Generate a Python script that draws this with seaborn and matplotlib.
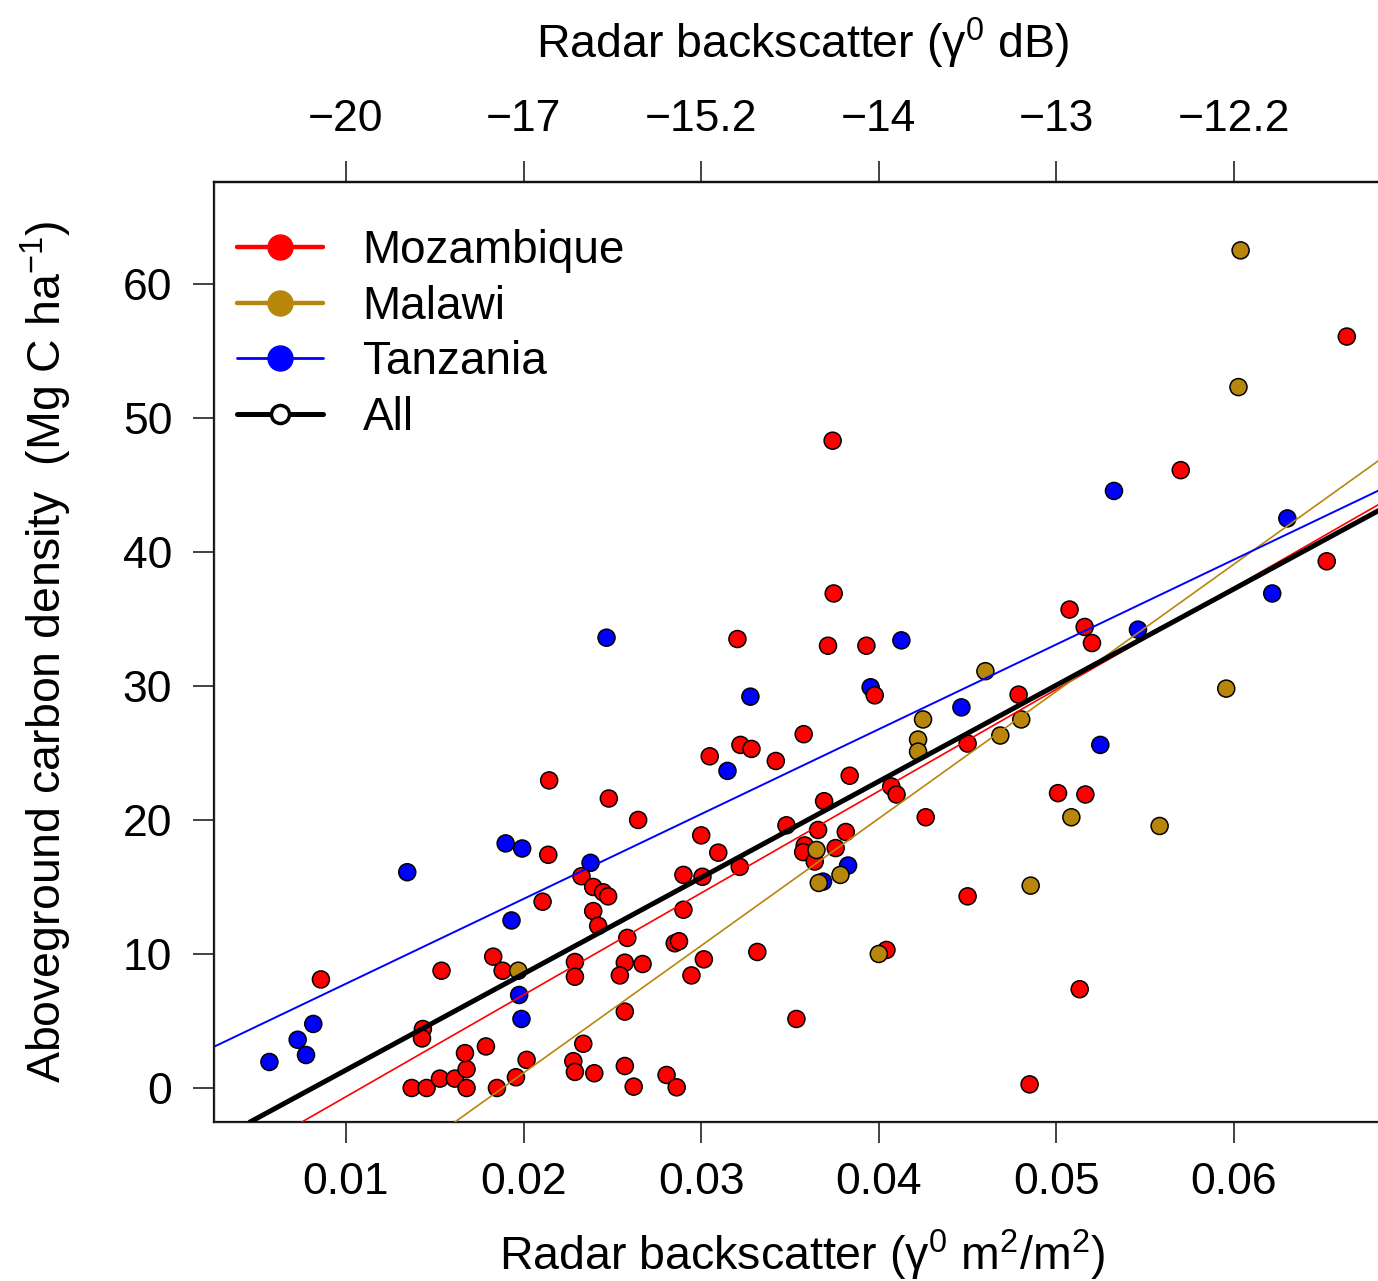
import numpy as np
import pandas as pd
import matplotlib
matplotlib.use("Agg")
import matplotlib.pyplot as plt
from matplotlib.lines import Line2D
import seaborn as sns

# Points (linear backscatter, carbon density)
moz_x = [0.00859, 0.01433, 0.01428, 0.0137, 0.01454, 0.01529, 0.01613, 0.01679, 0.01679, 0.0167,
         0.01788, 0.0185, 0.01957, 0.02017, 0.02336, 0.0228, 0.02289, 0.02398, 0.01538, 0.01829,
         0.01882, 0.02289, 0.02289, 0.02107, 0.02139, 0.02144, 0.0248, 0.02326, 0.02392, 0.02448,
         0.02476, 0.02392, 0.0242, 0.03746, 0.03204, 0.03714, 0.0393, 0.03977, 0.03577, 0.03221,
         0.03283, 0.03048, 0.0342, 0.03836, 0.02645, 0.03692, 0.0348, 0.03658, 0.03814, 0.0407,
         0.041, 0.04264, 0.03, 0.03096, 0.029, 0.03007, 0.03217, 0.03583, 0.03574, 0.03757,
         0.03639, 0.0450, 0.02584, 0.029, 0.02851, 0.02875, 0.0257, 0.0267, 0.02542, 0.03015,
         0.02945, 0.03316, 0.04043, 0.0257, 0.03536, 0.0257, 0.0262, 0.02805, 0.02862, 0.04849,
         0.06635, 0.0570, 0.05074, 0.05159, 0.052, 0.04787, 0.0450, 0.06522, 0.05009, 0.05163,
         0.05131, 0.0374]
moz_y = [8.1, 4.4, 3.7, 0.0, 0.0, 0.7, 0.7, 1.4, 0.0, 2.6,
         3.1, 0.0, 0.8, 2.1, 3.3, 2.0, 1.2, 1.1, 8.75, 9.8,
         8.75, 9.4, 8.3, 13.9, 17.4, 22.95, 21.6, 15.8, 15.0, 14.6,
         14.3, 13.2, 12.1, 36.9, 33.5, 33.0, 33.0, 29.3, 26.4, 25.6,
         25.3, 24.75, 24.4, 23.3, 20.0, 21.4, 19.6, 19.25, 19.1, 22.5,
         21.9, 20.2, 18.85, 17.56, 15.9, 15.76, 16.5, 18.1, 17.6, 17.9,
         16.9, 14.3, 11.2, 13.3, 10.8, 10.95, 9.35, 9.25, 8.4, 9.6,
         8.4, 10.15, 10.3, 5.7, 5.15, 1.64, 0.1, 0.97, 0.05, 0.27,
         56.07, 46.1, 35.7, 34.4, 33.2, 29.35, 25.7, 39.3, 22.0, 21.9,
         7.37, 48.3]

tza_x = [0.00569, 0.00728, 0.00775, 0.00816, 0.01345, 0.01899, 0.01992, 0.01932, 0.01975, 0.01988,
         0.02377, 0.02467, 0.03277, 0.03148, 0.04127, 0.03954, 0.04465, 0.03827, 0.03686, 0.05324,
         0.0630, 0.06215, 0.05459, 0.05247]
tza_y = [1.94, 3.6, 2.46, 4.78, 16.1, 18.25, 17.87, 12.5, 6.94, 5.15,
         16.8, 33.6, 29.2, 23.66, 33.4, 29.9, 28.4, 16.6, 15.4, 44.55,
         42.5, 36.9, 34.2, 25.6]

mwi_x = [0.06037, 0.06025, 0.0460, 0.04802, 0.04684, 0.05956, 0.05084, 0.05581, 0.04855, 0.04249,
         0.04221, 0.04221, 0.03649, 0.03784, 0.03662, 0.040, 0.0197]
mwi_y = [62.5, 52.3, 31.1, 27.5, 26.3, 29.8, 20.2, 19.55, 15.1, 27.5,
         26.0, 25.1, 17.76, 15.9, 15.3, 10.0, 8.75]

# regression lines: intercept, slope
fit_names = ["Mozambique", "Malawi", "Tanzania", "All"]
fit_intercept = [-8.25, -17.85, 1.45, -5.84]
fit_slope = [760.0, 949.0, 633.0, 718.0]

colours = {"Mozambique": "#FF0000", "Malawi": "#B8860B", "Tanzania": "#0000FF", "All": "black"}

xticks = [0.01, 0.02, 0.03, 0.04, 0.05, 0.06]
xtick_labels = ["0.01", "0.02", "0.03", "0.04", "0.05", "0.06"]
db_labels = ["\u221220", "\u221217", "\u221215.2", "\u221214", "\u221213", "\u221212.2"]
yticks = [0, 10, 20, 30, 40, 50, 60]

df = pd.concat([
    pd.DataFrame({"x": tza_x, "y": tza_y, "country": "Tanzania"}),
    pd.DataFrame({"x": moz_x, "y": moz_y, "country": "Mozambique"}),
    pd.DataFrame({"x": mwi_x, "y": mwi_y, "country": "Malawi"}),
], ignore_index=True)

sns.set_style("ticks")
plt.rcParams['font.family'] = ['Liberation Sans', 'DejaVu Sans']
plt.rcParams['mathtext.fontset'] = 'custom'
plt.rcParams['mathtext.rm'] = 'Liberation Sans'
plt.rcParams['mathtext.it'] = 'Liberation Sans:italic'
plt.rcParams['text.color'] = 'black'
plt.rcParams['axes.labelcolor'] = 'black'
plt.rcParams['xtick.color'] = 'black'
plt.rcParams['ytick.color'] = 'black'

fig = plt.figure(figsize=(13.78, 12.81), dpi=100)
ax = fig.add_axes([0.1553, 0.1241, 0.8592, 0.7338])

sns.scatterplot(data=df, x="x", y="y", hue="country", palette=colours, s=150,
                edgecolor="black", linewidth=1.1, legend=False, ax=ax, zorder=2)

for name, b, m in zip(fit_names, fit_intercept, fit_slope):
    lw = 3.6 if name == "All" else (1.4 if name == "Tanzania" else 1.2)
    ax.axline((0, b), slope=m, color=colours[name], lw=lw, zorder=3)

ax.set_xlim(0.00257, 0.06923)
ax.set_ylim(-2.54, 67.6)
ax.set_xticks(xticks)
ax.set_xticklabels(xtick_labels)
ax.set_yticks(yticks)
ax.tick_params(axis="both", labelsize=32, length=15, width=1.2, color="#222222")
ax.tick_params(axis="x", pad=14)
ax.tick_params(axis="y", pad=15)
for sp in ["left", "bottom", "top"]:
    ax.spines[sp].set_linewidth(1.6)
    ax.spines[sp].set_color("#111111")
ax.spines["right"].set_visible(False)

ax.set_xlabel("Radar backscatter (\u03b3$^0$ m$^2$/m$^2$)", fontsize=33.5)
ax.set_ylabel("Aboveground carbon density  (Mg C ha$^{-1}$)", fontsize=33.5)
ax.xaxis.set_label_coords(0.497, -0.113)
ax.yaxis.set_label_coords(-0.118, 0.5)

top = ax.twiny()
top.set_xlim(ax.get_xlim())
top.set_xticks(xticks)
top.set_xticklabels(db_labels)
top.tick_params(axis="x", labelsize=32, length=15, width=1.2, pad=15, color="#222222")
top.spines["right"].set_visible(False)
top.spines["top"].set_linewidth(1.6)
top.spines["top"].set_color("#111111")
top.set_xlabel("Radar backscatter (\u03b3$^0$ dB)", fontsize=33.5)
top.xaxis.set_label_coords(0.497, 1.132)

handles = [
    Line2D([], [], color=colours["Mozambique"], lw=3.2, marker="o", ms=18, mfc=colours["Mozambique"], mec=colours["Mozambique"]),
    Line2D([], [], color=colours["Malawi"], lw=3.2, marker="o", ms=18, mfc=colours["Malawi"], mec=colours["Malawi"]),
    Line2D([], [], color=colours["Tanzania"], lw=2.0, marker="o", ms=18, mfc=colours["Tanzania"], mec=colours["Tanzania"]),
    Line2D([], [], color="black", lw=3.6, marker="o", ms=13, mfc="white", mec="black", mew=2.5),
]
ax.legend(handles, fit_names, loc="upper left", bbox_to_anchor=(0.0194, 0.9495), frameon=False,
          fontsize=33, borderpad=0, borderaxespad=0, handlelength=1.87, handletextpad=0.87,
          labelspacing=0.25)

fig.savefig("out.png", dpi=100)
